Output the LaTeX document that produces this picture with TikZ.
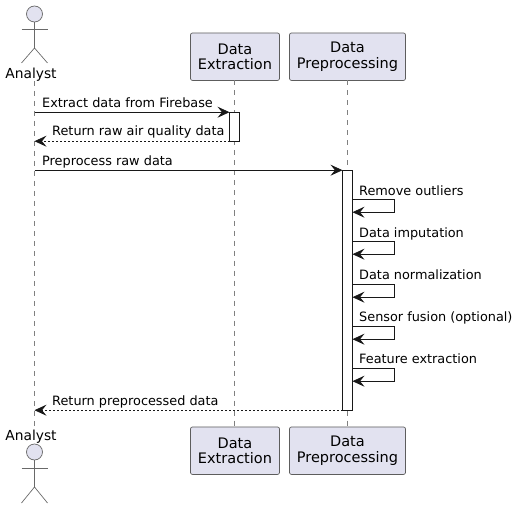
\documentclass[tikz,border=0pt]{standalone}
\usepackage{fontspec}
\setmainfont{DejaVu Sans}
\usetikzlibrary{arrows.meta}
\definecolor{partfill}{HTML}{E2E2F0}
\definecolor{ink}{HTML}{181818}
\tikzset{
  x=1pt,y=-1pt,
  part/.style={draw=ink!70,line width=0.7pt,fill=partfill,rounded corners=2pt,align=center,inner sep=0pt,font=\fontsize{14.5}{15.5}\selectfont,text=black},
  life/.style={draw=ink!55,line width=0.6pt,dash pattern=on 5pt off 5pt},
  activ/.style={draw=ink,line width=0.9pt,fill=white,inner sep=0pt,minimum width=10pt},
  stick/.style={draw=ink!65,line width=0.7pt},
  head/.style={draw=ink!65,line width=0.7pt,fill=partfill,circle,inner sep=0pt,minimum size=16pt},
  tip/.style={-{Stealth[length=12pt,width=11pt,inset=4.5pt]}},
  msg/.style={draw=ink,line width=0.8pt,tip},
  ret/.style={draw=ink,line width=0.8pt,tip,dash pattern=on 2pt off 2pt},
  lbl/.style={anchor=base west,inner sep=0pt,font=\fontsize{12.85}{15}\selectfont,text=black},
  alabel/.style={anchor=base,inner sep=0pt,font=\fontsize{13.8}{18}\selectfont,text=black}
}
\begin{document}
\begin{tikzpicture}
\useasboundingbox (0,0) rectangle (517,508);
% participants
\node[part,minimum width=89pt,minimum height=47.5pt] (ext) at (235,56.7) {\raisebox{-1.7pt}{Data}\\\raisebox{-1.7pt}{Extraction}};
\node[part,minimum width=116pt,minimum height=47.5pt] (pre) at (347.5,56.7) {\raisebox{-1.7pt}{Data}\\\raisebox{-1.7pt}{Preprocessing}};
\node[part,minimum width=89pt,minimum height=47.5pt] (extb) at (235,450.7) {\raisebox{-1.7pt}{Data}\\\raisebox{-1.7pt}{Extraction}};
\node[part,minimum width=116pt,minimum height=47.5pt] (preb) at (347.5,450.7) {\raisebox{-1.7pt}{Data}\\\raisebox{-1.7pt}{Preprocessing}};
% analyst labels
\node[alabel] (ana) at (31,78.5) {Analyst};
\node[alabel] (anab) at (31,440) {Analyst};
% lifeline ends
\coordinate (lt) at (34.5,81);
\coordinate (lb) at (34.5,427);
\coordinate (et) at (234.5,80.5);
\coordinate (eb) at (234.5,427);
\coordinate (pt) at (347.5,80.5);
\coordinate (pb) at (347.5,427);
\draw[life] (lt) -- (lb);
\draw[life] (et) -- (eb);
\draw[life] (pt) -- (pb);
% top actor
\node[head] (hd) at (34.5,14) {};
\coordinate (hip) at (34.5,48);
\coordinate (al) at (21.5,29);
\coordinate (ar) at (47.5,29);
\coordinate (ll) at (21.5,63);
\coordinate (lr) at (47.5,63);
\draw[stick] (hd) -- (hip);
\draw[stick] (al) -- (ar);
\draw[stick] (ll) -- (hip) -- (lr);
% bottom actor
\node[head] (hdb) at (34.5,452) {};
\coordinate (hipb) at (34.5,487);
\coordinate (alb) at (21.5,468);
\coordinate (arb) at (47.5,468);
\coordinate (llb) at (21.5,503);
\coordinate (lrb) at (47.5,503);
\draw[stick] (hdb) -- (hipb);
\draw[stick] (alb) -- (arb);
\draw[stick] (llb) -- (hipb) -- (lrb);
% activations
\node[activ,minimum height=29pt] (ae) at (234.5,126.7) {};
\node[activ,minimum height=240pt] (ap) at (347.5,290.2) {};
% message ends
\coordinate (m1) at (34.5,112.2);
\coordinate (m1e) at (229.5,112.2);
\coordinate (m2) at (229.5,141.2);
\coordinate (m2e) at (34.5,141.2);
\coordinate (m3) at (34.5,170.2);
\coordinate (m3e) at (342.5,170.2);
\coordinate (m9) at (342.5,410.2);
\coordinate (m9e) at (34.5,410.2);
\draw[msg] (m1) -- (m1e);
\draw[ret] (m2) -- (m2e);
\draw[msg] (m3) -- (m3e);
\draw[ret] (m9) -- (m9e);
% self messages
\foreach \n/\y in {a/199,b/241,c/284,d/326,e/368}{
  \coordinate (s\n) at (352.5,\y.2);
  \coordinate (s\n r) at (394.5,\y.2);
  \coordinate (s\n e) at (352.5,\y.2+13);
  \draw[msg] (s\n) -- (s\n r) |- (s\n e);
}
% labels
\node[lbl] (t1) at (42,107.5) {Extract data from Firebase};
\node[lbl] (t2) at (52,136) {Return raw air quality data};
\node[lbl] (t3) at (42,166) {Preprocess raw data};
\node[lbl] (t4) at (359,195.5) {Remove outliers};
\node[lbl] (t5) at (359,237) {Data imputation};
\node[lbl] (t6) at (359,279) {Data normalization};
\node[lbl] (t7) at (359,321) {Sensor fusion (optional)};
\node[lbl] (t8) at (359,363) {Feature extraction};
\node[lbl] (t9) at (52,405) {Return preprocessed data};
\end{tikzpicture}
\end{document}
